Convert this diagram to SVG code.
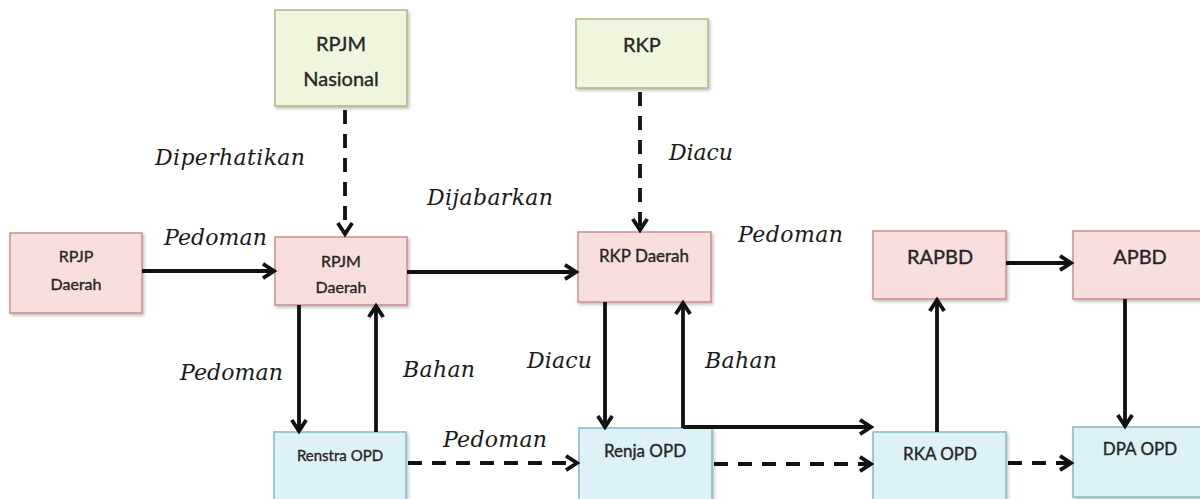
<svg xmlns="http://www.w3.org/2000/svg" width="1200" height="499" viewBox="0 0 1200 499">
<style>
.box{stroke-width:1.5}
.pink{fill:#f8dedd;stroke:#c98e8b}
.green{fill:#eff6dd;stroke:#a9b983}
.blue{fill:#dcf2f8;stroke:#86b8c2}
.bl{font-family:Lato,"Open Sans",sans-serif;fill:#262626;stroke:#262626;stroke-width:0.35;text-anchor:middle}
.lb{font-family:"DejaVu Serif",serif;font-style:italic;font-size:22px;fill:#1a1a1a}
.c{stroke:#111;stroke-width:3.8;fill:none;marker-end:url(#ah)}
.d{stroke-dasharray:14 10}
</style>
<defs>
<marker id="ah" viewBox="0 0 18 18" refX="14" refY="9" markerWidth="18" markerHeight="18" markerUnits="userSpaceOnUse" orient="auto">
<path d="M3,1.8 L14,9 L3,16.2" fill="none" stroke="#111" stroke-width="3.8" stroke-linejoin="miter"/>
</marker>
<filter id="sh" x="-5%" y="-5%" width="115%" height="120%">
<feDropShadow dx="1.5" dy="2" stdDeviation="1.5" flood-color="#000" flood-opacity="0.25"/>
</filter>
</defs>
<rect width="1200" height="499" fill="#fff"/>

<g id="rpjm-nasional"><rect class="box green" x="275" y="10" width="132" height="96" filter="url(#sh)"/>
<text class="bl" x="341" y="51" font-size="20">RPJM</text><text class="bl" x="341" y="86" font-size="20">Nasional</text></g>
<g id="rkp"><rect class="box green" x="576" y="19" width="132" height="69" filter="url(#sh)"/>
<text class="bl" x="642" y="52" font-size="20">RKP</text></g>
<g id="rpjp-daerah"><rect class="box pink" x="10" y="233" width="132" height="80" filter="url(#sh)"/>
<text class="bl" x="76" y="262" font-size="16">RPJP</text><text class="bl" x="76" y="290" font-size="16">Daerah</text></g>
<g id="rpjm-daerah"><rect class="box pink" x="275" y="237" width="132" height="68" filter="url(#sh)"/>
<text class="bl" x="341" y="267" font-size="16">RPJM</text><text class="bl" x="341" y="293" font-size="16">Daerah</text></g>
<g id="rkp-daerah"><rect class="box pink" x="578" y="232" width="133" height="70" filter="url(#sh)"/>
<text class="bl" x="644" y="262" font-size="17">RKP Daerah</text></g>
<g id="rapbd"><rect class="box pink" x="873" y="231" width="133" height="68" filter="url(#sh)"/>
<text class="bl" x="940" y="264" font-size="20">RAPBD</text></g>
<g id="apbd"><rect class="box pink" x="1073" y="231" width="133" height="68" filter="url(#sh)"/>
<text class="bl" x="1140" y="264" font-size="20">APBD</text></g>
<g id="renstra-opd"><rect class="box blue" x="274" y="432" width="132" height="75" filter="url(#sh)"/>
<text class="bl" x="340" y="461" font-size="15">Renstra OPD</text></g>
<g id="renja-opd"><rect class="box blue" x="579" y="428" width="133" height="75" filter="url(#sh)"/>
<text class="bl" x="645" y="457" font-size="17">Renja OPD</text></g>
<g id="rka-opd"><rect class="box blue" x="873" y="432" width="133" height="75" filter="url(#sh)"/>
<text class="bl" x="940" y="460" font-size="17">RKA OPD</text></g>
<g id="dpa-opd"><rect class="box blue" x="1073" y="427" width="133" height="70" filter="url(#sh)"/>
<text class="bl" x="1140" y="455" font-size="17">DPA OPD</text></g>

<g id="connectors">
<line class="c" x1="142" y1="271" x2="274" y2="271"/>
<line class="c" x1="407" y1="272" x2="576" y2="272"/>
<line class="c d" x1="345" y1="110" x2="345" y2="234"/>
<line class="c d" x1="640" y1="92" x2="640" y2="230"/>
<line class="c" x1="299" y1="305" x2="299" y2="431"/>
<line class="c" x1="376" y1="432" x2="376" y2="306"/>
<line class="c" x1="605" y1="302" x2="605" y2="427"/>
<line class="c" x1="683" y1="428" x2="683" y2="303"/>
<polyline class="c" points="683,427 871,427"/>
<line class="c d" x1="408" y1="463" x2="577" y2="463"/>
<line class="c d" x1="714" y1="464" x2="871" y2="464"/>
<line class="c" x1="937" y1="432" x2="937" y2="300"/>
<line class="c" x1="1006" y1="263" x2="1071" y2="263"/>
<line class="c" x1="1125" y1="299" x2="1125" y2="426"/>
<line class="c d" x1="1008" y1="463" x2="1071" y2="463"/>
</g>

<g id="labels">
<text class="lb" x="155" y="165" textLength="150">Diperhatikan</text>
<text class="lb" x="164" y="245" textLength="103">Pedoman</text>
<text class="lb" x="427" y="205" textLength="126">Dijabarkan</text>
<text class="lb" x="669" y="160" textLength="64">Diacu</text>
<text class="lb" x="738" y="242" textLength="105">Pedoman</text>
<text class="lb" x="180" y="380" textLength="103">Pedoman</text>
<text class="lb" x="403" y="377" textLength="72">Bahan</text>
<text class="lb" x="527" y="368" textLength="65">Diacu</text>
<text class="lb" x="705" y="368" textLength="72">Bahan</text>
<text class="lb" x="443" y="447" textLength="104">Pedoman</text>
</g>
</svg>
